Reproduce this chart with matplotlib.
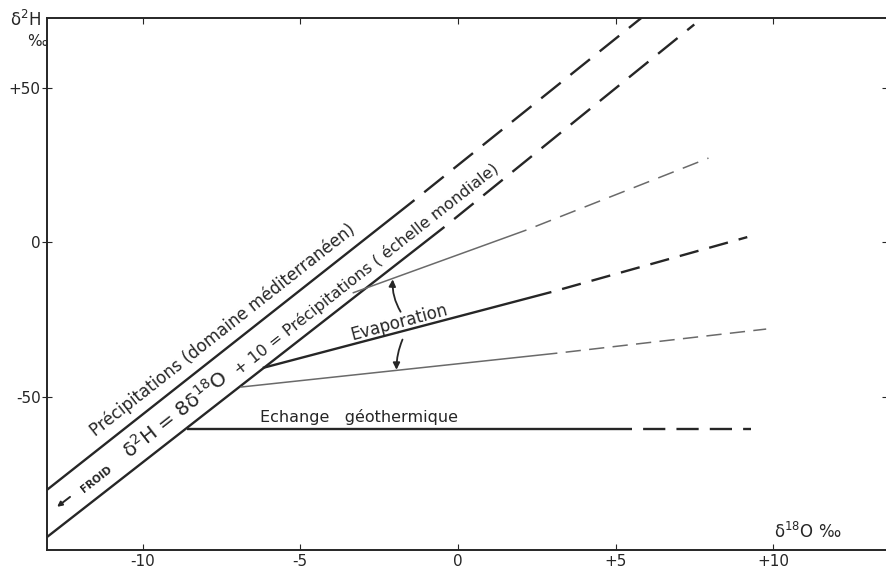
import matplotlib.pyplot as plt

plt.rcParams['font.family'] = ['DejaVu Sans']
plt.rcParams['lines.scale_dashes'] = False

# droites : (delta 18O, delta 2H), partie pleine puis tiretee
med_x = [-13.03, -1.38, 5.81]        # precipitations domaine mediterraneen
med_y = [-80.2, 13.7, 72.7]
gmwl_x = [-13.03, -0.43, 7.49]       # droite mondiale 8x+10
gmwl_y = [-95.5, 5.0, 70.6]
evap_hi_x = [-3.34, 2.17, 7.94]      # evaporation (pente forte)
evap_hi_y = [-16.4, 4.0, 27.3]
evap_mid_x = [-6.19, 2.96, 9.17]     # evaporation (moyenne)
evap_mid_y = [-40.7, -16.1, 1.7]
evap_lo_x = [-6.89, 3.15, 9.77]      # evaporation (pente faible)
evap_lo_y = [-46.9, -35.9, -28.1]
geo_x = [-8.60, 5.53, 9.29]          # echange geothermique
geo_y = [-60.6, -60.6, -60.6]

x_ticks = [-10, -5, 0, 5, 10]
x_labels = ['-10', '-5', '0', '+5', '+10']
y_ticks = [-50, 0, 50]
y_labels = ['-50', '0', '+50']

W, H = 887, 569
fig = plt.figure(figsize=(W / 100, H / 100), dpi=100)
ax = fig.add_axes([47 / W, 1 - 550 / H, 1 - 47 / W, (550 - 18) / H])
ax.set_xlim(-13.03, 13.6)
ax.set_ylim(-99.7, 72.7)

dark = '#262626'
grey = '#6a6a6a'


def seg(xs, ys, color, lw, on, off):
    # partie pleine puis partie en tirets
    ax.plot(xs[:2], ys[:2], color=color, lw=lw, solid_capstyle='butt')
    ax.plot(xs[1:], ys[1:], color=color, lw=lw, dash_capstyle='butt',
            linestyle=(on, (on, off)))


seg(med_x, med_y, dark, 1.7, 18, 9)
seg(gmwl_x, gmwl_y, dark, 1.7, 18, 9)
seg(evap_hi_x, evap_hi_y, grey, 1.1, 12, 7)
seg(evap_mid_x, evap_mid_y, dark, 1.7, 14, 8)
seg(evap_lo_x, evap_lo_y, grey, 1.1, 11, 6)
seg(geo_x, geo_y, dark, 1.7, 16, 8)

# fleches evaporation
ax.annotate('', xy=(-2.07, -12.0), xytext=(-1.82, -22.5),
            arrowprops=dict(arrowstyle='-|>', color=dark, lw=1.3,
                            mutation_scale=10, shrinkA=0, shrinkB=0,
                            connectionstyle='arc3,rad=-0.15'))
ax.annotate('', xy=(-1.95, -41.3), xytext=(-1.76, -31.5),
            arrowprops=dict(arrowstyle='-|>', color=dark, lw=1.3,
                            mutation_scale=10, shrinkA=0, shrinkB=0,
                            connectionstyle='arc3,rad=0.1'))
ax.annotate('', xy=(-12.71, -85.7), xytext=(-12.3, -82.5),
            arrowprops=dict(arrowstyle='-|>', color=dark, lw=1.4,
                            mutation_scale=7, shrinkA=0, shrinkB=0))

txt = dict(color=dark, ha='center', va='center', rotation_mode='anchor')
ax.text(-7.45, -28.3, 'Précipitations (domaine méditerranéen)',
        fontsize=12, rotation=38.2, **txt)
ax.text(-8.95, -55.8, 'δ$^2$H = 8δ$^{18}$O', fontsize=14.5, rotation=38.2, **txt)
ax.text(-2.90, -8.6, '+ 10 = Précipitations ( échelle mondiale)',
        fontsize=11.5, rotation=38.2, **txt)
ax.text(-11.45, -76.8, 'FROID', fontsize=7.5, fontweight='bold',
        rotation=38.2, **txt)
ax.text(-1.85, -26.0, 'Evaporation', fontsize=12, rotation=15, **txt)
ax.text(-3.13, -56.6, 'Echange   géothermique', fontsize=11.5, **txt)

# axes
ax.set_xticks(x_ticks)
ax.set_xticklabels(x_labels)
ax.set_yticks(y_ticks)
ax.set_yticklabels(y_labels)
ax.tick_params(axis='x', direction='in', length=4, top=True, pad=3,
               labelsize=11, colors=dark)
ax.tick_params(axis='y', direction='inout', length=7, right=True, pad=1,
               labelsize=11, colors=dark)
for s in ax.spines.values():
    s.set_color(dark)
    s.set_linewidth(1.4)

fig.text(10 / W, 1 - 20 / H, 'δ$^2$H', fontsize=12, color=dark,
         ha='left', va='center')
fig.text(37 / W, 1 - 42 / H, '‰', fontsize=11, color=dark,
         ha='center', va='center')
fig.text(808 / W, 1 - 532 / H, 'δ$^{18}$O ‰', fontsize=12, color=dark,
         ha='center', va='center')

fig.savefig('out.png', dpi=100)
